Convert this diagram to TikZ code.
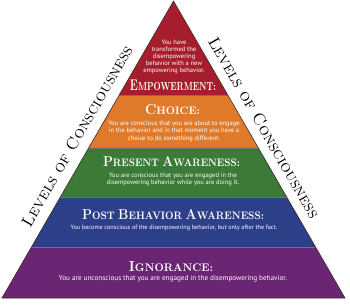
\documentclass[tikz,border=0pt]{standalone}
\usepackage{fontspec}
\newfontfamily\bodyfont{PT Sans}
\usetikzlibrary{calc}
\definecolor{cRed}{HTML}{A61E2E}
\definecolor{cOrange}{HTML}{E07A2B}
\definecolor{cGreen}{HTML}{3B7A37}
\definecolor{cBlue}{HTML}{2C3F88}
\definecolor{cPurple}{HTML}{6A2672}
\definecolor{cEdge}{HTML}{3A2A2A}
\newcommand{\pyrhead}[2]{{\bfseries\fontsize{12.5}{12.5}\selectfont #1{\fontsize{9.5}{9.5}\selectfont #2}}}
\newcommand{\pyrfit}[3]{\resizebox{#1pt}{#2pt}{#3}}
\tikzset{
  headtxt/.style={text=white, inner sep=0pt, align=center},
  bodytxt/.style={text=white, inner sep=0pt, align=center},
  sidetxt/.style={text=black, inner sep=0pt, font=\fontsize{16.5}{16.5}\selectfont\scshape},
  sep/.style={draw=black!55, line width=0.8pt},
}
\begin{document}
\begin{tikzpicture}[x=1pt,y=-1pt]
\useasboundingbox (0,0) rectangle (350,306);
\coordinate (A) at (173.5,1);
\coordinate (BL) at (2,298);
\coordinate (BR) at (345,298);
\coordinate (L1) at ($(A)!0.3165!(BL)$);
\coordinate (R1) at ($(A)!0.3165!(BR)$);
\coordinate (L2) at ($(A)!0.4949!(BL)$);
\coordinate (R2) at ($(A)!0.4949!(BR)$);
\coordinate (L3) at ($(A)!0.6599!(BL)$);
\coordinate (R3) at ($(A)!0.6599!(BR)$);
\coordinate (L4) at ($(A)!0.8283!(BL)$);
\coordinate (R4) at ($(A)!0.8283!(BR)$);
% bands
\fill[cRed] (A) -- (L1) -- (R1) -- cycle;
\fill[cOrange] (L1) -- (L2) -- (R2) -- (R1) -- cycle;
\fill[cGreen] (L2) -- (L3) -- (R3) -- (R2) -- cycle;
\fill[cBlue] (L3) -- (L4) -- (R4) -- (R3) -- cycle;
\fill[cPurple] (L4) -- (BL) -- (BR) -- (R4) -- cycle;
\draw[sep] (L1) -- (R1);
\draw[sep] (L2) -- (R2);
\draw[sep] (L3) -- (R3);
\draw[sep] (L4) -- (R4);
\draw[draw=cEdge, line width=0.6pt, line join=miter] (A) -- (BL) -- (BR) -- cycle;
% side labels
\node[sidetxt, rotate=60] (sideL) at (77,136) {Levels of Consciousness};
\node[sidetxt, rotate=-60] (sideR) at (264,127.5) {Levels of Consciousness};
% Empowerment
\node[bodytxt, font=\bodyfont\fontsize{6.5}{7}\selectfont] (empB) at (174,57) {You have\\transformed the\\disempowering\\behavior with a new\\empowering behavior.};
\node[headtxt] (empH) at (173,85.5) {\pyrfit{86}{10.5}{\pyrhead{E}{MPOWERMENT:}}};
% Choice
\node[headtxt] (choH) at (172.5,110) {\pyrfit{55}{10}{\pyrhead{C}{HOICE:}}};
\node[bodytxt, font=\bodyfont\fontsize{6.5}{7.5}\selectfont] (choB) at (174,131) {You are conscious that you are about to engage\\in the behavior and in that moment you have a\\choice to do something different.};
% Present
\node[headtxt] (preH) at (171.5,162) {\pyrfit{137}{10}{\pyrhead{P}{RESENT} \pyrhead{A}{WARENESS:}}};
\node[bodytxt, font=\bodyfont\fontsize{6.5}{7.5}\selectfont] (preB) at (173,179.5) {You are conscious that you are engaged in the\\disempowering behavior while you are doing it.};
% Post behavior
\node[headtxt] (posH) at (173,215) {\pyrfit{182}{10}{\pyrhead{P}{OST} \pyrhead{B}{EHAVIOR} \pyrhead{A}{WARENESS:}}};
\node[bodytxt, font=\bodyfont\fontsize{6.25}{7}\selectfont] (posB) at (174,228) {You become conscious of the disempowering behavior, but only after the fact.};
% Ignorance
\node[headtxt] (ignH) at (171,267) {\pyrfit{84}{10}{\pyrhead{I}{GNORANCE:}}};
\node[bodytxt, font=\bodyfont\fontsize{7.2}{7.5}\selectfont] (ignB) at (173,279) {You are unconscious that you are engaged in the disempowering behavior.};
\end{tikzpicture}
\end{document}
